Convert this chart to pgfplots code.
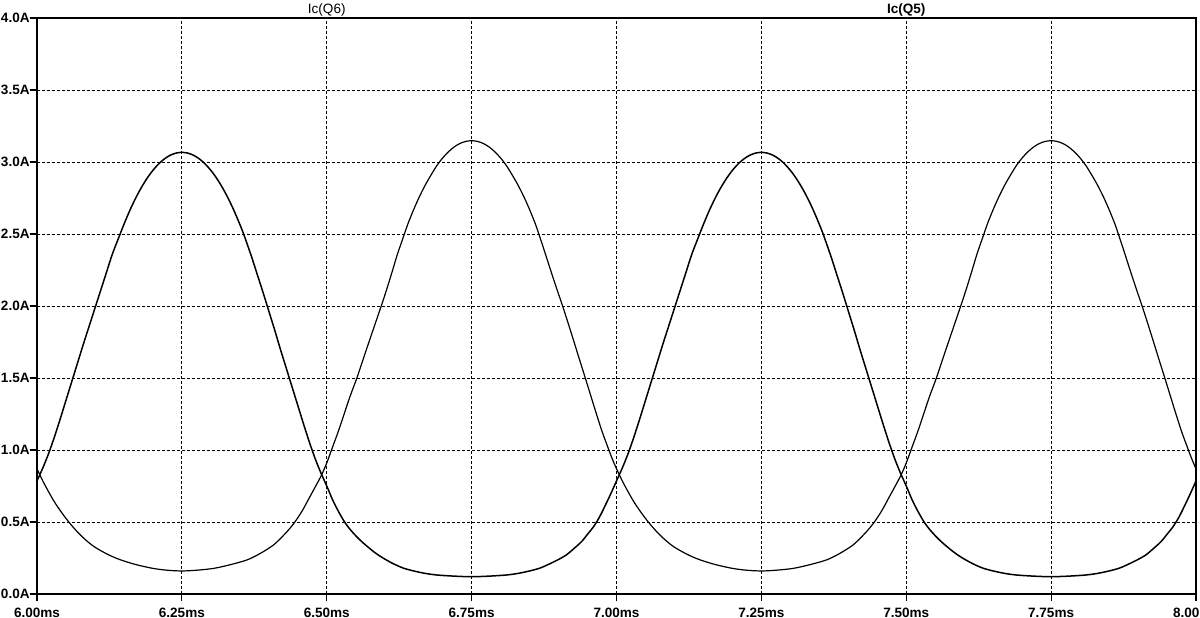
\documentclass[border=0pt]{standalone}
\usepackage{fontspec}
\setmainfont{Liberation Sans}
\usepackage{pgfplots}
\pgfplotsset{compat=1.18}
\begin{document}
\begin{tikzpicture}
\useasboundingbox (-18.5bp,-12bp) rectangle (581.5bp,297bp);
\begin{axis}[
  at={(0,0)}, anchor=south west,
  scale only axis,
  width=579.5bp, height=288bp,
  xmin=6, xmax=8, ymin=0, ymax=4,
  axis line style={line width=1bp},
  xtick={6,6.25,6.5,6.75,7,7.25,7.5,7.75,8},
  xticklabels={6.00ms,6.25ms,6.50ms,6.75ms,7.00ms,7.25ms,7.50ms,7.75ms,8.00ms},
  ytick={0,0.5,1,1.5,2,2.5,3,3.5,4},
  yticklabels={0.0A,0.5A,1.0A,1.5A,2.0A,2.5A,3.0A,3.5A,4.0A},
  tick align=outside,
  xtick pos=bottom, ytick pos=left,
  major tick length=3.5bp,
  tick style={black, line width=0.6bp},
  ticklabel style={font=\fontsize{6.8}{8}\selectfont\bfseries, inner sep=0pt},
  yticklabel style={anchor=east, xshift=0bp},
  xticklabel style={anchor=north, yshift=-3.5bp},
  grid=major,
  major grid style={black, line width=0.5bp, dash pattern=on 1.5bp off 1bp},
  clip mode=individual,
]
\addplot[black, line width=0.75bp, smooth] coordinates {
(6.000,0.785) (6.010,0.875) (6.020,0.975) (6.030,1.09) (6.040,1.215) (6.050,1.345)
(6.060,1.475) (6.070,1.605) (6.080,1.735) (6.090,1.86) (6.100,1.985) (6.110,2.11)
(6.120,2.235) (6.130,2.36) (6.143,2.495) (6.150,2.567) (6.160,2.662) (6.170,2.747)
(6.180,2.822) (6.190,2.887) (6.200,2.942) (6.210,2.987) (6.220,3.022) (6.230,3.047)
(6.240,3.062) (6.250,3.067) (6.260,3.062) (6.270,3.047) (6.280,3.022) (6.290,2.987)
(6.300,2.942) (6.310,2.887) (6.320,2.822) (6.330,2.747) (6.340,2.662) (6.350,2.567)
(6.357,2.495) (6.370,2.345) (6.380,2.22) (6.390,2.095) (6.400,1.965) (6.410,1.835)
(6.420,1.70) (6.430,1.57) (6.440,1.44) (6.450,1.31) (6.460,1.18) (6.470,1.055)
(6.480,0.94) (6.490,0.84) (6.500,0.75) (6.510,0.655) (6.520,0.575) (6.530,0.505)
(6.540,0.45) (6.550,0.405) (6.560,0.365) (6.570,0.33) (6.580,0.297) (6.590,0.268)
(6.600,0.243) (6.615,0.21) (6.632,0.18) (6.650,0.16) (6.670,0.143) (6.690,0.132)
(6.720,0.124) (6.750,0.120) (6.780,0.124) (6.810,0.132) (6.830,0.143) (6.850,0.16)
(6.868,0.18) (6.885,0.21) (6.900,0.24) (6.913,0.27) (6.925,0.31) (6.940,0.365)
(6.950,0.415) (6.960,0.465) (6.970,0.53) (6.980,0.61) (6.990,0.695)
(7.000,0.785) (7.010,0.875) (7.020,0.975) (7.030,1.09) (7.040,1.215) (7.050,1.345)
(7.060,1.475) (7.070,1.605) (7.080,1.735) (7.090,1.86) (7.100,1.985) (7.110,2.11)
(7.120,2.235) (7.130,2.36) (7.143,2.495) (7.150,2.567) (7.160,2.662) (7.170,2.747)
(7.180,2.822) (7.190,2.887) (7.200,2.942) (7.210,2.987) (7.220,3.022) (7.230,3.047)
(7.240,3.062) (7.250,3.067) (7.260,3.062) (7.270,3.047) (7.280,3.022) (7.290,2.987)
(7.300,2.942) (7.310,2.887) (7.320,2.822) (7.330,2.747) (7.340,2.662) (7.350,2.567)
(7.357,2.495) (7.370,2.345) (7.380,2.22) (7.390,2.095) (7.400,1.965) (7.410,1.835)
(7.420,1.70) (7.430,1.57) (7.440,1.44) (7.450,1.31) (7.460,1.18) (7.470,1.055)
(7.480,0.94) (7.490,0.84) (7.500,0.75) (7.510,0.655) (7.520,0.575) (7.530,0.505)
(7.540,0.45) (7.550,0.405) (7.560,0.365) (7.570,0.33) (7.580,0.297) (7.590,0.268)
(7.600,0.243) (7.615,0.21) (7.632,0.18) (7.650,0.16) (7.670,0.143) (7.690,0.132)
(7.720,0.124) (7.750,0.120) (7.780,0.124) (7.810,0.132) (7.830,0.143) (7.850,0.16)
(7.868,0.18) (7.885,0.21) (7.900,0.24) (7.913,0.27) (7.925,0.31) (7.940,0.365)
(7.950,0.415) (7.960,0.465) (7.970,0.53) (7.980,0.61) (7.990,0.695) (8.000,0.785)
};
\addplot[black, line width=0.6bp, smooth] coordinates {
(6.000,0.87) (6.010,0.785) (6.020,0.71) (6.030,0.64) (6.040,0.58) (6.050,0.525)
(6.060,0.475) (6.070,0.43) (6.080,0.39) (6.090,0.355) (6.100,0.325) (6.115,0.29)
(6.130,0.26) (6.145,0.236) (6.170,0.205) (6.200,0.178) (6.225,0.165) (6.250,0.160)
(6.275,0.165) (6.305,0.178) (6.335,0.205) (6.362,0.236) (6.380,0.27) (6.395,0.305)
(6.408,0.34) (6.420,0.385) (6.433,0.44) (6.445,0.50) (6.458,0.58) (6.471,0.676)
(6.481,0.75) (6.491,0.826) (6.500,0.91) (6.510,1.02) (6.520,1.13) (6.530,1.25)
(6.540,1.37) (6.552,1.50) (6.562,1.62) (6.572,1.74) (6.583,1.87) (6.594,2.00)
(6.603,2.11) (6.613,2.24) (6.622,2.36) (6.634,2.50) (6.640,2.57) (6.650,2.67)
(6.660,2.76) (6.670,2.84) (6.680,2.91) (6.690,2.975) (6.700,3.028) (6.710,3.071)
(6.720,3.105) (6.730,3.129) (6.740,3.143) (6.750,3.148) (6.760,3.143) (6.770,3.129)
(6.780,3.105) (6.790,3.071) (6.800,3.028) (6.810,2.975) (6.820,2.91) (6.830,2.84)
(6.840,2.76) (6.850,2.67) (6.860,2.57) (6.866,2.50) (6.875,2.39) (6.885,2.265)
(6.896,2.13) (6.907,2.00) (6.917,1.875) (6.926,1.76) (6.936,1.63) (6.945,1.515)
(6.955,1.385) (6.965,1.255) (6.975,1.13) (6.985,1.02) (6.993,0.935)
(7.000,0.87) (7.010,0.785) (7.020,0.71) (7.030,0.64) (7.040,0.58) (7.050,0.525)
(7.060,0.475) (7.070,0.43) (7.080,0.39) (7.090,0.355) (7.100,0.325) (7.115,0.29)
(7.130,0.26) (7.145,0.236) (7.170,0.205) (7.200,0.178) (7.225,0.165) (7.250,0.160)
(7.275,0.165) (7.305,0.178) (7.335,0.205) (7.362,0.236) (7.380,0.27) (7.395,0.305)
(7.408,0.34) (7.420,0.385) (7.433,0.44) (7.445,0.50) (7.458,0.58) (7.471,0.676)
(7.481,0.75) (7.491,0.826) (7.500,0.91) (7.510,1.02) (7.520,1.13) (7.530,1.25)
(7.540,1.37) (7.552,1.50) (7.562,1.62) (7.572,1.74) (7.583,1.87) (7.594,2.00)
(7.603,2.11) (7.613,2.24) (7.622,2.36) (7.634,2.50) (7.640,2.57) (7.650,2.67)
(7.660,2.76) (7.670,2.84) (7.680,2.91) (7.690,2.975) (7.700,3.028) (7.710,3.071)
(7.720,3.105) (7.730,3.129) (7.740,3.143) (7.750,3.148) (7.760,3.143) (7.770,3.129)
(7.780,3.105) (7.790,3.071) (7.800,3.028) (7.810,2.975) (7.820,2.91) (7.830,2.84)
(7.840,2.76) (7.850,2.67) (7.860,2.57) (7.866,2.50) (7.875,2.39) (7.885,2.265)
(7.896,2.13) (7.907,2.00) (7.917,1.875) (7.926,1.76) (7.936,1.63) (7.945,1.515)
(7.955,1.385) (7.965,1.255) (7.975,1.13) (7.985,1.02) (7.993,0.935) (8.000,0.87)
};
\node[anchor=base, inner sep=0pt, yshift=2.5bp, font=\fontsize{6.8}{8}\selectfont] at (rel axis cs:0.25,1) {Ic(Q6)};
\node[anchor=base, inner sep=0pt, yshift=2.5bp, font=\fontsize{6.8}{8}\selectfont\bfseries] at (rel axis cs:0.75,1) {Ic(Q5)};
\end{axis}
\end{tikzpicture}
\end{document}
